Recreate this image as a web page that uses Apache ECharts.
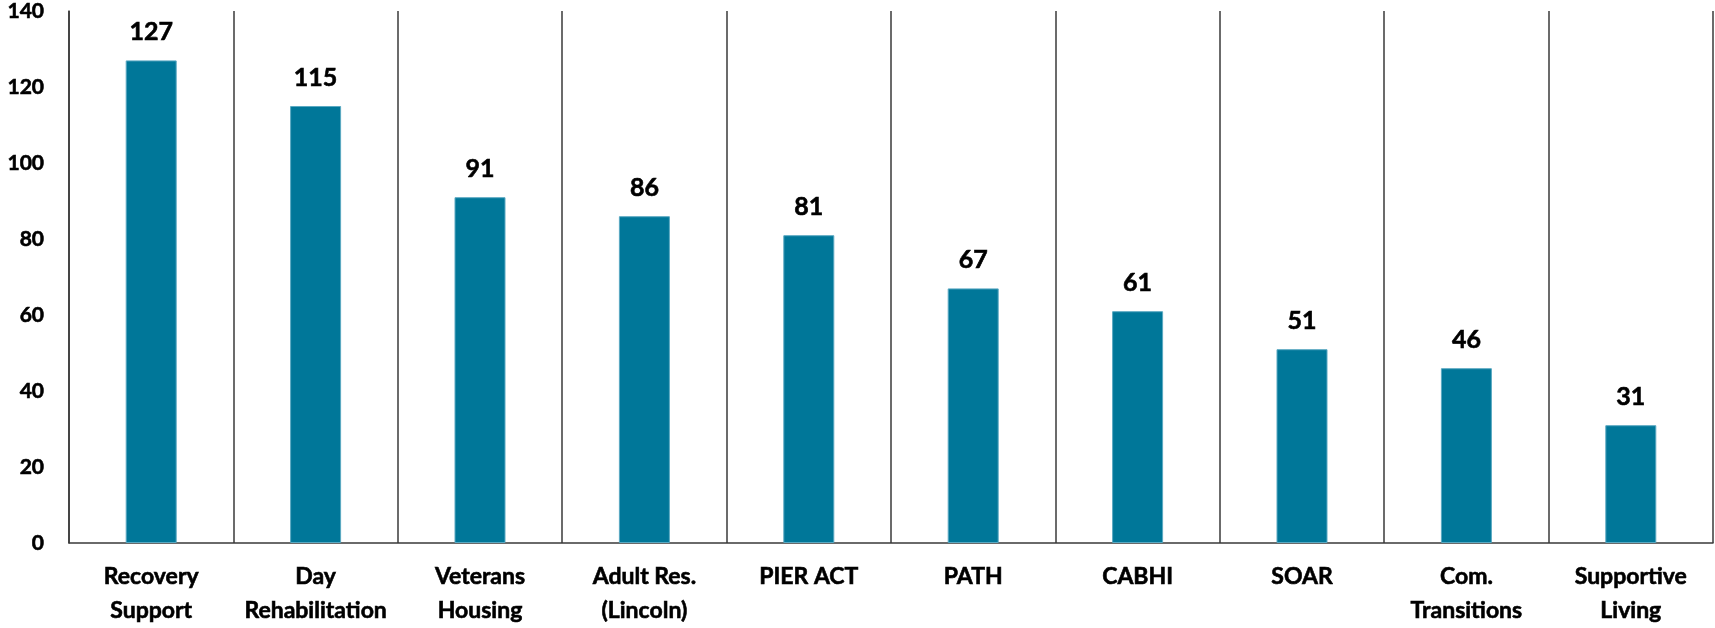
<!DOCTYPE html>
<html>
<head>
<meta charset="utf-8">
<script src="https://cdn.jsdelivr.net/npm/echarts@6/dist/echarts.min.js"></script>
<style>html,body{margin:0;padding:0;background:#fff}#c{width:1715px;height:628px}</style>
</head>
<body>
<div id="c"></div>
<script>
const categories = ['Recovery\nSupport','Day\nRehabilitation','Veterans\nHousing','Adult Res.\n(Lincoln)','PIER ACT','PATH','CABHI','SOAR','Com.\nTransitions','Supportive\nLiving'];
const values = [127,115,91,86,81,67,61,51,46,31];
const yTicks = {min:0, max:140, interval:20};

const chart = echarts.init(document.getElementById('c'), null, {renderer:'canvas'});
const font = 'Lato, "Open Sans", sans-serif';
const heavy = {textBorderColor:'#000', textBorderWidth:0.6};
chart.setOption({
  animation:false,
  grid:{left:69, right:2, top:11, bottom:84, containLabel:false},
  xAxis:{
    type:'category', data:categories, boundaryGap:true,
    axisLine:{show:true, lineStyle:{color:'#3a3a3a', width:1.5}},
    axisTick:{show:false},
    splitLine:{show:true, interval:0, lineStyle:{color:'#3a3a3a', width:1.5}},
    axisLabel:Object.assign({interval:0, margin:17, color:'#000', fontFamily:font, fontWeight:'bold', fontSize:23, lineHeight:34}, heavy)
  },
  yAxis:{
    type:'value', min:yTicks.min, max:yTicks.max, interval:yTicks.interval,
    axisLine:{show:true, lineStyle:{color:'#3a3a3a', width:1.5}},
    axisTick:{show:false},
    splitLine:{show:false},
    axisLabel:Object.assign({margin:25, color:'#000', fontFamily:font, fontWeight:'bold', fontSize:21}, heavy)
  },
  series:[{
    type:'bar', data:values, barWidth:51,
    itemStyle:{color:'#007799', borderColor:'#5aa9c2', borderWidth:1},
    label:Object.assign({show:true, position:'top', distance:16, color:'#000', fontFamily:font, fontWeight:'bold', fontSize:25}, heavy)
  }]
});
</script>
</body>
</html>
